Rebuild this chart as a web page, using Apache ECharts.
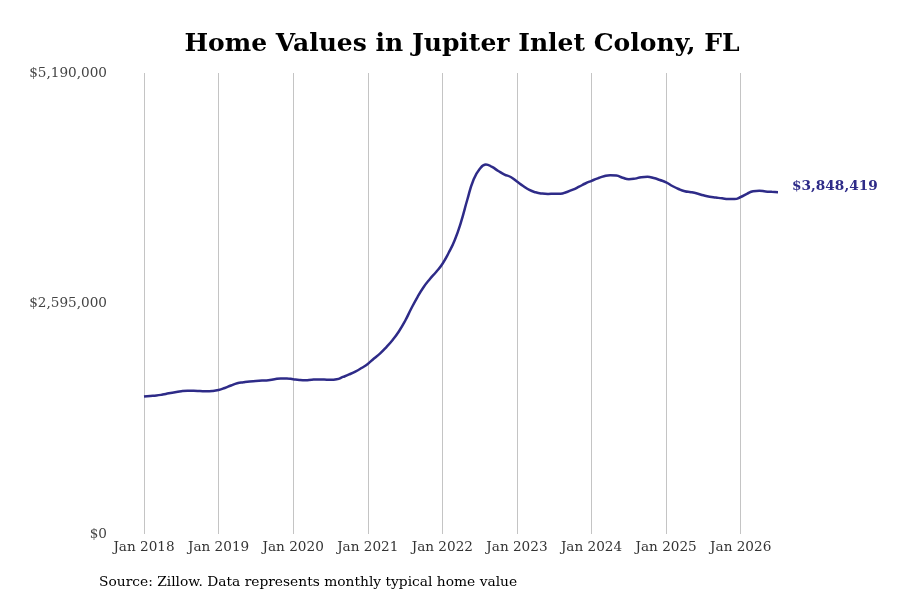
<!DOCTYPE html>
<html>
<head>
<meta charset="utf-8">
<script src="https://cdn.jsdelivr.net/npm/echarts@6/dist/echarts.min.js"></script>
<style>
  html, body { margin: 0; padding: 0; background: #fff; }
  #chart { width: 900px; height: 600px; }
</style>
</head>
<body>
<div id="chart"></div>
<script>
const TitleText = 'Home Values in Jupiter Inlet Colony, FL';
const SourceText = 'Source: Zillow. Data represents monthly typical home value';
const YMax = 5190000;
const YTicks = [0, 2595000, 5190000];
const StartYear = 2018;
const LineColor = '#2e2b88';

// monthly typical home value, Jan 2018 .. Jul 2026
const homeValues = [
  1548000, 1554000, 1559000, 1570000, 1584000, 1595000, 1607000, 1612000, 1612000, 1610000, 1607000, 1610000,
  1621000, 1644000, 1672000, 1697000, 1709000, 1718000, 1722000, 1727000, 1731000, 1743000, 1752000, 1751000,
  1742000, 1734000, 1731000, 1737000, 1740000, 1738000, 1736000, 1742000, 1768000, 1796000, 1829000, 1869000,
  1914000, 1976000, 2034000, 2105000, 2184000, 2280000, 2398000, 2539000, 2668000, 2781000, 2871000, 2950000,
  3040000, 3163000, 3310000, 3512000, 3760000, 3985000, 4109000, 4160000, 4132000, 4087000, 4047000, 4019000,
  3968000, 3918000, 3873000, 3847000, 3833000, 3828000, 3831000, 3830000, 3850000, 3876000, 3910000, 3946000,
  3976000, 4004000, 4027000, 4039000, 4035000, 4011000, 3994000, 4001000, 4017000, 4021000, 4008000, 3985000,
  3959000, 3918000, 3884000, 3859000, 3848000, 3833000, 3813000, 3797000, 3788000, 3779000, 3771000, 3771000,
  3794000, 3830000, 3859000, 3865000, 3856000, 3852000, 3848419
];

const monthNames = ['Jan', 'Feb', 'Mar', 'Apr', 'May', 'Jun', 'Jul', 'Aug', 'Sep', 'Oct', 'Nov', 'Dec'];
const months = homeValues.map(function (v, i) {
  return monthNames[i % 12] + ' ' + (StartYear + Math.floor(i / 12));
});

function money(v) {
  return '$' + Math.round(v).toString().replace(/\B(?=(\d{3})+(?!\d))/g, ',');
}

const chart = echarts.init(document.getElementById('chart'), null, { renderer: 'canvas' });

chart.setOption({
  backgroundColor: '#ffffff',
  animation: false,
  textStyle: { fontFamily: 'DejaVu Serif' },
  title: {
    text: TitleText,
    left: 457,
    top: 27,
    textAlign: 'center',
    textStyle: { fontFamily: 'DejaVu Serif', fontWeight: 'bold', fontSize: 25, color: '#000' }
  },
  graphic: [{
    type: 'text',
    left: 99,
    top: 575,
    style: { text: SourceText, font: '13.8px "DejaVu Serif"', fill: '#000' }
  }],
  grid: { left: 144, right: 122, top: 73, bottom: 66 },
  xAxis: {
    type: 'category',
    data: months,
    boundaryGap: false,
    axisLine: { show: false },
    axisTick: { show: false },
    axisLabel: {
      interval: 11,
      margin: 6,
      color: '#333',
      fontSize: 13.6,
      fontFamily: 'DejaVu Serif'
    },
    splitLine: {
      show: true,
      interval: 11,
      lineStyle: { color: '#c4c4c4', width: 1 }
    }
  },
  yAxis: {
    type: 'value',
    min: 0,
    max: YMax,
    interval: YTicks[1],
    axisLine: { show: false },
    axisTick: { show: false },
    splitLine: { show: false },
    axisLabel: {
      margin: 37,
      padding: [4, 0, 0, 0],
      color: '#444',
      fontSize: 13.6,
      fontFamily: 'DejaVu Serif',
      formatter: money
    }
  },
  series: [{
    type: 'line',
    data: homeValues,
    smooth: true,
    symbol: 'none',
    lineStyle: { color: LineColor, width: 2.5 },
    endLabel: {
      show: true,
      distance: 14,
      offset: [0, -6],
      formatter: function (p) { return money(p.value); },
      color: LineColor,
      fontWeight: 'bold',
      fontSize: 13.7,
      fontFamily: 'DejaVu Serif'
    }
  }]
});
</script>
</body>
</html>
